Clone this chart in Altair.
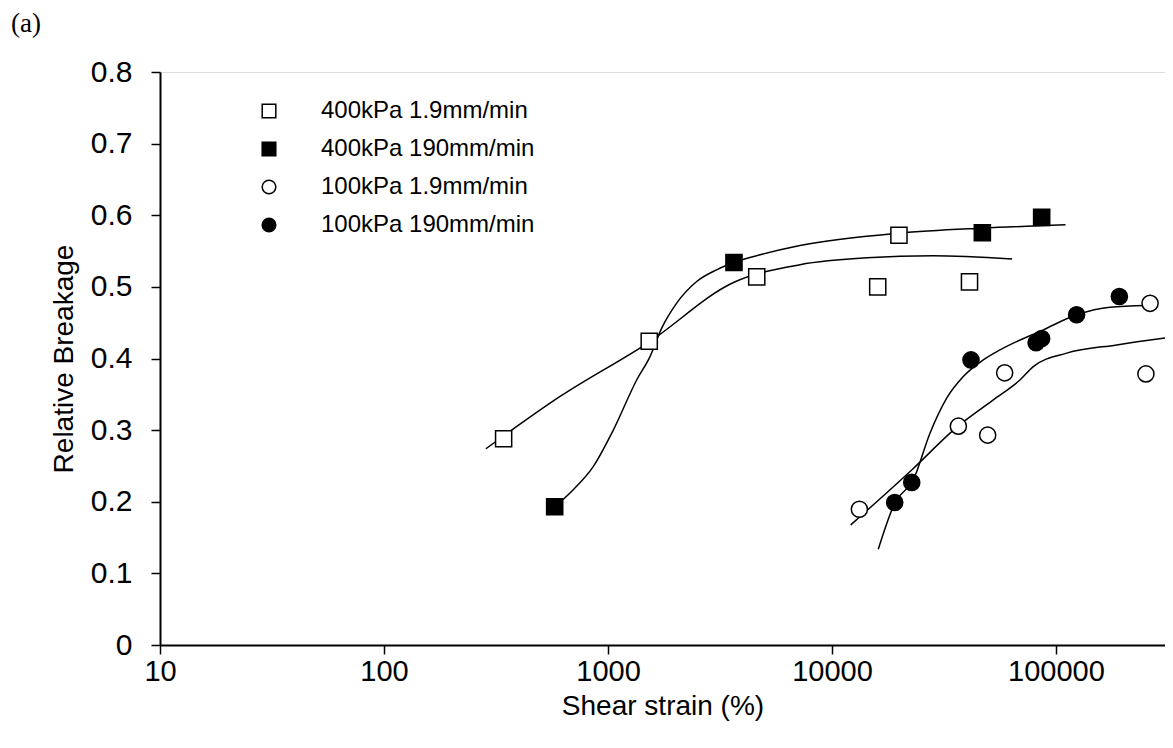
import altair as alt
import pandas as pd

# ---- data ----
series_names = ["400kPa 1.9mm/min", "400kPa 190mm/min", "100kPa 1.9mm/min", "100kPa 190mm/min"]

sq_open_x = [342, 1528, 4613, 16000, 19900, 41100]
sq_open_y = [0.288, 0.424, 0.514, 0.500, 0.572, 0.507]
sq_fill_x = [578, 3651, 46900, 86300]
sq_fill_y = [0.193, 0.534, 0.5755, 0.597]
ci_open_x = [13250, 36650, 49550, 59000, 252000, 263000]
ci_open_y = [0.1895, 0.3055, 0.293, 0.380, 0.3785, 0.477]
ci_fill_x = [19050, 22700, 41740, 81500, 86300, 123600, 191800]
ci_fill_y = [0.199, 0.227, 0.398, 0.422, 0.428, 0.461, 0.4865]

# fitted trend curves
fit_sq_open_x = [285, 611, 1528, 3614, 7196, 14320, 28240, 63700]
fit_sq_open_y = [0.274, 0.347, 0.423, 0.5057, 0.531, 0.5406, 0.5434, 0.539]
fit_sq_fill_x = [578, 698, 859, 1056, 1343, 1540, 1737, 2026, 2489, 3055, 3651, 4775, 7196, 19900, 46900, 110300]
fit_sq_fill_y = [0.193, 0.2165, 0.249, 0.300, 0.370, 0.4027, 0.4424, 0.4773, 0.5075, 0.5238, 0.534, 0.5448, 0.5578, 0.575, 0.582, 0.5867]
fit_ci_open_x = [12120, 22690, 36630, 52490, 69040, 79180, 111600, 186700, 332700]
fit_ci_open_y = [0.1676, 0.2444, 0.3059, 0.3422, 0.370, 0.3887, 0.4075, 0.419, 0.430]
fit_ci_fill_x = [16090, 19110, 23070, 27380, 32510, 38550, 47360, 56230, 87790, 123600, 174200, 254200]
fit_ci_fill_y = [0.1337, 0.1988, 0.2305, 0.2957, 0.3446, 0.3748, 0.3981, 0.412, 0.440, 0.461, 0.4717, 0.474]

x_ticks = [10, 100, 1000, 10000, 100000]
y_ticks = [0, 0.1, 0.2, 0.3, 0.4, 0.5, 0.6, 0.7, 0.8]

# ---- tables ----
pts = []
for name, xs, ys in zip(series_names,
                        [sq_open_x, sq_fill_x, ci_open_x, ci_fill_x],
                        [sq_open_y, sq_fill_y, ci_open_y, ci_fill_y]):
    for xv, yv in zip(xs, ys):
        pts.append({"series": name, "x": xv, "y": yv})
pts = pd.DataFrame(pts)

fits = []
for name, xs, ys in zip(series_names,
                        [fit_sq_open_x, fit_sq_fill_x, fit_ci_open_x, fit_ci_fill_x],
                        [fit_sq_open_y, fit_sq_fill_y, fit_ci_open_y, fit_ci_fill_y]):
    for i, (xv, yv) in enumerate(zip(xs, ys)):
        fits.append({"series": name, "x": xv, "y": yv, "i": i})
fits = pd.DataFrame(fits)

FONT = "Liberation Sans"
W, H = 1005, 573
XMAX = 10 ** (1 + W / 224)

xscale = alt.Scale(type="log", domain=[10, XMAX], nice=False)
yscale = alt.Scale(domain=[0, 0.8], nice=False)

xaxis = alt.Axis(values=x_ticks, format="d", title="Shear strain (%)", grid=False,
                 domainColor="black", domainWidth=2, tickColor="black", tickWidth=1.5,
                 tickSize=9, labelFont=FONT, labelFontSize=29, labelColor="black",
                 labelPadding=3, titleFont=FONT, titleFontSize=28, titleFontWeight="normal",
                 titleColor="black", titlePadding=6, labelFlush=False)
yaxis = alt.Axis(values=y_ticks, format=".1~f", title="Relative Breakage", grid=False,
                 domainColor="black", domainWidth=2, tickColor="black", tickWidth=1.5,
                 tickSize=9, labelFont=FONT, labelFontSize=30, labelColor="black",
                 labelPadding=19, titleFont=FONT, titleFontSize=28, titleFontWeight="normal",
                 titleColor="black", titlePadding=12)

lines = alt.Chart(fits).mark_line(color="black", strokeWidth=1.5, interpolate="monotone", clip=True).encode(
    x=alt.X("x:Q", scale=xscale, axis=xaxis),
    y=alt.Y("y:Q", scale=yscale, axis=yaxis),
    detail="series:N",
    order="i:Q",
)

legend = alt.Legend(title=None, orient="none", legendX=97, legendY=27,
                    labelFont=FONT, labelFontSize=24, labelColor="black", labelLimit=0,
                    symbolSize=185, symbolStrokeColor="black", symbolStrokeWidth=1.5,
                    labelOffset=40, rowPadding=14, padding=0)

points = alt.Chart(pts).mark_point(filled=True, size=260, strokeWidth=1.5, opacity=1).encode(
    x=alt.X("x:Q", scale=xscale, axis=xaxis),
    y=alt.Y("y:Q", scale=yscale, axis=yaxis),
    shape=alt.Shape("series:N", scale=alt.Scale(domain=series_names, range=["square", "square", "circle", "circle"]), legend=legend, sort=series_names),
    fill=alt.Fill("series:N", scale=alt.Scale(domain=series_names, range=["white", "black", "white", "black"]), legend=legend, sort=series_names),
    stroke=alt.Stroke("series:N", scale=alt.Scale(domain=series_names, range=["black", "black", "black", "black"]), legend=legend, sort=series_names),
)

label = alt.Chart(pd.DataFrame({"t": ["(a)"]})).mark_text(
    font="Liberation Serif", fontSize=27, color="black", align="left", baseline="top"
).encode(x=alt.value(-149), y=alt.value(-61), text="t:N")

chart = alt.layer(lines, points, label).properties(
    width=W, height=H,
    autosize=alt.AutoSizeParams(type="none"),
    padding={"left": 152, "top": 64, "right": 0, "bottom": 85},
).configure_view(stroke=None).configure(background="white")

chart.save("out.html", embed_options={"renderer": "svg", "actions": False})
